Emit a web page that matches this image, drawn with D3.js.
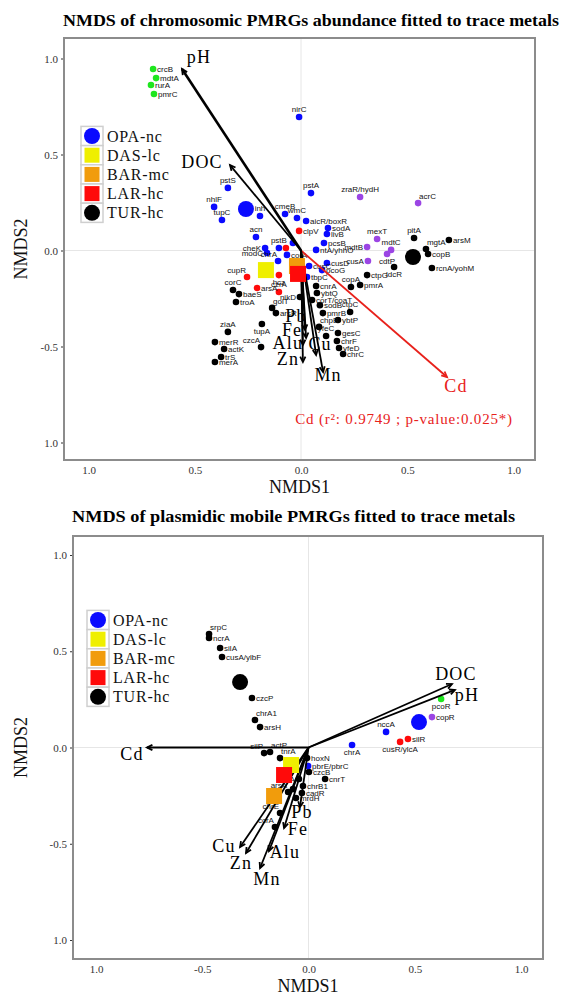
<!DOCTYPE html>
<html><head><meta charset="utf-8">
<script src="https://cdn.jsdelivr.net/npm/d3@7"></script>
<style>body{margin:0;background:#fff}</style>
</head><body>
<svg id="c" width="562" height="1000"></svg>
<script>
// ---------- DATA ----------
const sites = ["OPA-nc","DAS-lc","BAR-mc","LAR-hc","TUR-hc"];
const siteCodes = ["OPA","DAS","BAR","LAR","TUR"];
const siteShapes = ["circle","square","square","square","circle"];

// chromosomic PMRGs: [gene, NMDS1, NMDS2, group]
const chromGenes = [
 ["crcB",-0.696,0.945,"GRN"],["mdtA",-0.682,0.898,"GRN"],["rurA",-0.706,0.862,"GRN"],["pmrC",-0.692,0.815,"GRN"],
 ["nirC",-0.009,0.695,"OPA"],["pstS",-0.344,0.326,"OPA"],["nhlF",-0.409,0.227,"OPA"],["tupC",-0.372,0.159,"OPA"],
 ["inh",-0.193,0.180,"OPA"],["cmeB",-0.075,0.190,"OPA"],["wmC",-0.019,0.169,"OPA"],["aicR/boxR",0.024,0.154,"OPA"],
 ["pstA",0.047,0.299,"OPA"],["sodA",0.127,0.117,"OPA"],["livB",0.122,0.086,"OPA"],["pcsB",0.108,0.039,"OPA"],
 ["ntA/yhhO",0.071,0.003,"OPA"],["acn",-0.212,0.070,"OPA"],["cheK",-0.169,0.013,"OPA"],["modC",-0.160,-0.013,"OPA"],
 ["pstB",-0.104,0.013,"OPA"],["corA",-0.066,-0.023,"OPA"],["chrA",-0.108,-0.055,"OPA"],["",-0.038,0.039,"OPA"],
 ["cusC",0.038,-0.081,"OPA"],["cusD",0.122,-0.065,"OPA"],["pcoG",0.099,-0.102,"OPA"],["tbpC",0.028,-0.138,"OPA"],
 ["clpV",-0.009,0.102,"LAR"],["",-0.071,0.013,"LAR"],["cupR",-0.254,-0.138,"LAR"],["hcz",-0.104,-0.128,"LAR"],
 ["arsA",-0.207,-0.195,"LAR"],["czrA",-0.104,-0.216,"LAR"],
 ["zraR/hydH",0.278,0.279,"PUR"],["acrC",0.551,0.247,"PUR"],["mexT",0.358,0.060,"PUR"],["mdtB",0.311,0.018,"PUR"],
 ["mdtC",0.424,0.003,"PUR"],["cdtP",0.405,-0.018,"PUR"],["cusA",0.315,-0.055,"PUR"],
 ["pitA",0.532,0.065,"TUR"],["mgtA",0.588,0.008,"TUR"],["copB",0.598,-0.018,"TUR"],["arsM",0.696,0.055,"TUR"],
 ["rcnA/yohM",0.616,-0.091,"TUR"],["ldcR",0.438,-0.086,"TUR"],["ctpG",0.311,-0.128,"TUR"],["pmrA",0.278,-0.180,"TUR"],
 ["copA",0.235,-0.190,"TUR"],["cnrA",0.071,-0.185,"TUR"],["ybtQ",0.075,-0.221,"TUR"],["corT/coaT",0.052,-0.258,"TUR"],
 ["sodB",0.089,-0.285,"TUR"],["ctpC",0.231,-0.320,"TUR"],["pmrB",0.103,-0.326,"TUR"],["chpB",0.085,-0.398,"TUR"],
 ["ybtP",0.174,-0.362,"TUR"],["yfeC",0.118,-0.445,"TUR"],["gesC",0.174,-0.430,"TUR"],["chrF",0.169,-0.471,"TUR"],
 ["yfeD",0.179,-0.508,"TUR"],["chrC",0.198,-0.539,"TUR"],["corC",-0.320,-0.206,"TUR"],["baeS",-0.292,-0.227,"TUR"],
 ["troA",-0.306,-0.268,"TUR"],["golT",-0.136,-0.299,"TUR"],["arsR",-0.118,-0.326,"TUR"],["nikD",-0.005,-0.242,"TUR"],
 ["ziaA",-0.344,-0.424,"TUR"],["tupA",-0.184,-0.383,"TUR"],["czcA",-0.188,-0.503,"TUR"],["merR",-0.405,-0.477,"TUR"],
 ["actK",-0.362,-0.513,"TUR"],["trS",-0.376,-0.555,"TUR"],["merA",-0.405,-0.581,"TUR"]
];
const chromCentroids = [["OPA",-0.259,0.216],["DAS",-0.165,-0.102],["BAR",-0.019,-0.081],["LAR",-0.014,-0.122],["TUR",0.527,-0.034]];
const chromVectors = [["pH",-0.560,0.945],["DOC",-0.334,0.445],["Cd",0.687,-0.659],["Pb",0.019,-0.414],["Fe",0.024,-0.456],
 ["Alu",0.009,-0.492],["Cu",0.071,-0.544],["Zn",0.009,-0.581],["Mn",0.104,-0.633]];

// plasmidic mobile PMRGs
const plasGenes = [
 ["srpC",-0.468,0.590,"TUR"],["ncrA",-0.468,0.569,"TUR"],["silA",-0.416,0.517,"TUR"],["cusA/ylbF",-0.407,0.470,"TUR"],
 ["czcP",-0.266,0.257,"TUR"],["chrA1",-0.252,0.143,"TUR"],["arsH",-0.228,0.106,"TUR"],["silP",-0.209,-0.029,"TUR"],
 ["actP",-0.181,-0.023,"TUR"],["tnrA",-0.134,-0.055,"TUR"],["hoxN",-0.007,-0.055,"TUR"],["czcB",0.002,-0.127,"TUR"],
 ["cnrT",0.078,-0.164,"TUR"],["nirA",-0.045,-0.164,"TUR"],["chrB1",-0.026,-0.200,"TUR"],["cadR",-0.031,-0.236,"TUR"],
 ["mrdH",-0.059,-0.262,"TUR"],["arsA",-0.096,-0.231,"TUR"],["",-0.073,-0.216,"TUR"],["chrE",-0.134,-0.340,"TUR"],
 ["ccrA",-0.158,-0.413,"TUR"],
 ["pbrE/pbrC",-0.002,-0.096,"OPA"],["chrA",0.205,0.013,"OPA"],["nccA",0.365,0.081,"OPA"],
 ["silR",0.468,0.044,"LAR"],["cusR/ylcA",0.431,0.029,"LAR"],
 ["copR",0.581,0.158,"PUR"],["pcoR",0.624,0.252,"GRN"]
];
const plasCentroids = [["OPA",0.520,0.132],["DAS",-0.082,-0.091],["BAR",-0.162,-0.252],["LAR",-0.115,-0.143],["TUR",-0.322,0.340]];
const plasVectors = [["DOC",0.675,0.330],["pH",0.689,0.299],["Cd",-0.760,0.0],["Pb",-0.040,-0.309],["Fe",-0.115,-0.418],
 ["Alu",-0.186,-0.538],["Mn",-0.228,-0.626],["Cu",-0.322,-0.517],["Zn",-0.294,-0.548]];

const chromXTicks = [-1,-0.5,0,0.5,1], chromXLabels = ["1.0","0.5","0.0","0.5","1.0"];
const chromYTicks = [-1,-0.5,0,0.5,1], chromYLabels = ["1.0","-0.5","0.0","0.5","1.0"];
const plasXTicks = [-1,-0.5,0,0.5,1], plasXLabels = ["1.0","-0.5","0.0","0.5","1.0"];
const plasYTicks = [-1,-0.5,0,0.5,1], plasYLabels = ["1.0","-0.5","0.0","0.5","1.0"];
const cdStat = "Cd (r\u00B2: 0.9749 ; p-value:0.025*)";

// ---------- STYLE / LAYOUT ----------
const colors = {OPA:"#0a0aff",DAS:"#efef00",BAR:"#f19c0c",LAR:"#ff0a0a",TUR:"#000000",GRN:"#1ee61e",PUR:"#9b45e4"};
const serif = "'Liberation Serif','Times New Roman',serif";
const sans = "'Liberation Sans',Arial,sans-serif";

const chromSide = {"pstS":"t","nhlF":"t","tupC":"t","inh":"t","cmeB":"t","wmC":"t","pstA":"t","nirC":"t","acn":"t",
 "cheK":"l","modC":"l","pstB":"t","chrA":"tl","cupR":"tl","hcz":"b","czrA":"t","zraR/hydH":"t","mexT":"t","mdtB":"l",
 "mdtC":"t","cdtP":"b","cusA":"l","pitA":"t","mgtA":"tr","ldcR":"b","copA":"t","ctpC":"t","chpB":"tr","yfeC":"t",
 "corC":"t","golT":"tr","nikD":"l","ziaA":"t","tupA":"b","czcA":"tl","acrC":"tr"};
const plasSide = {"srpC":"tr","chrA1":"tr","silP":"tl","actP":"tr","arsA":"tl","chrE":"tl","ccrA":"tl","chrA":"b","nccA":"t",
 "pcoR":"b","cusR/ylcA":"b","nirA":"l","tnrA":"tr"};
const chromVecLab = {pH:[17,-6],DOC:[-28,3],Cd:[9,15],Pb:[-9,-8],Fe:[-14,-2],Alu:[-15,4],Zn:[-15,3],Cu:[4,-5],Mn:[5,9]};
const plasVecLab = {DOC:[4,-4],pH:[12,11],Cd:[-15,12],Pb:[2,11],Fe:[14,7],Alu:[16,7],Mn:[7,17],Cu:[-16,5],Zn:[-5,16]};

const svg = d3.select("#c");

function drawPanel(o){
  const g = svg.append("g");
  const x = d3.scaleLinear().domain([-1,1]).range(o.xr);
  const y = d3.scaleLinear().domain([-1,1]).range(o.yr);
  const [L,T,R,B] = o.box;
  g.append("line").attr("x1",x(0)).attr("x2",x(0)).attr("y1",T).attr("y2",B).attr("stroke","#e6e6e6").attr("stroke-width",1);
  g.append("line").attr("x1",L).attr("x2",R).attr("y1",y(0)).attr("y2",y(0)).attr("stroke","#e6e6e6").attr("stroke-width",1);
  const ax = g.append("g").attr("transform",`translate(0,${B})`)
    .call(d3.axisBottom(x).tickValues(o.xt).tickFormat((d,i)=>o.xl[i]).tickSize(0).tickPadding(6));
  const ay = g.append("g").attr("transform",`translate(${L},0)`)
    .call(d3.axisLeft(y).tickValues(o.yt).tickFormat((d,i)=>o.yl[i]).tickSize(3).tickPadding(3));
  [ax,ay].forEach(a=>{a.select(".domain").remove();
    a.selectAll("text").attr("font-family",serif).attr("font-size",11).attr("fill","#333");
    a.selectAll("line").attr("stroke","#333");});
  const pts = o.genes.map(d=>({n:d[0],x:x(d[1]),y:y(d[2]),g:d[3]}));
  g.selectAll(".pt").data(pts).join("circle").attr("cx",d=>d.x).attr("cy",d=>d.y).attr("r",3.3).attr("fill",d=>colors[d.g]);
  const off = {r:[4,3,"start"],l:[-4,3,"end"],t:[0,-5,"middle"],b:[0,10,"middle"],tr:[1,-4,"start"],tl:[-1,-4,"end"]};
  g.selectAll(".lb").data(pts.filter(d=>d.n)).join("text")
    .attr("x",d=>d.x+off[o.side[d.n]||"r"][0]).attr("y",d=>d.y+off[o.side[d.n]||"r"][1])
    .attr("text-anchor",d=>off[o.side[d.n]||"r"][2])
    .attr("font-family",sans).attr("font-size",8).attr("fill","#111").text(d=>d.n);
  o.vecs.forEach(v=>{
    const x1=x(v[1]), y1=y(v[2]), x0=x(0), y0=y(0);
    const col = (o.red && v[0]==="Cd") ? "#e8211b" : "#000";
    const w = v[0]==="pH" && o.thickPH ? 2.6 : 1.8;
    g.append("line").attr("x1",x0).attr("y1",y0).attr("x2",x1).attr("y2",y1).attr("stroke",col).attr("stroke-width",w);
    const a = Math.atan2(y1-y0,x1-x0), h=6;
    const p = d3.path();
    p.moveTo(x1-h*Math.cos(a-0.45),y1-h*Math.sin(a-0.45)); p.lineTo(x1,y1);
    p.lineTo(x1-h*Math.cos(a+0.45),y1-h*Math.sin(a+0.45));
    g.append("path").attr("d",p.toString()).attr("fill","none").attr("stroke",col).attr("stroke-width",1.8);
    const lo = o.vlab[v[0]];
    g.append("text").attr("x",x1+lo[0]).attr("y",y1+lo[1]).attr("text-anchor","middle")
      .attr("font-family",serif).attr("font-size",18).attr("letter-spacing",1.2).attr("fill",col).text(v[0]);
  });
  o.cents.forEach(c=>{
    const i = siteCodes.indexOf(c[0]);
    if(siteShapes[i]==="circle") g.append("circle").attr("cx",x(c[1])).attr("cy",y(c[2])).attr("r",8).attr("fill",colors[c[0]]);
    else g.append("rect").attr("x",x(c[1])-8).attr("y",y(c[2])-8).attr("width",16).attr("height",16).attr("fill",colors[c[0]]);
  });
  g.append("rect").attr("x",L).attr("y",T).attr("width",R-L).attr("height",B-T).attr("fill","none").attr("stroke","#8c8c8c").attr("stroke-width",2);
  const lg = svg.append("g");
  sites.forEach((s,i)=>{
    const cy = o.leg[1]+i*19.2, kx=o.leg[0];
    lg.append("rect").attr("x",kx).attr("y",cy-9.6).attr("width",22).attr("height",19.2).attr("fill","#fff").attr("stroke","#cfcfcf").attr("stroke-width",1.5);
    const c = colors[siteCodes[i]];
    if(siteShapes[i]==="circle") lg.append("circle").attr("cx",kx+11).attr("cy",cy).attr("r",8).attr("fill",c);
    else lg.append("rect").attr("x",kx+3.5).attr("y",cy-7.5).attr("width",15).attr("height",15).attr("fill",c);
    lg.append("text").attr("x",kx+26).attr("y",cy+5.5).attr("font-family",serif).attr("font-size",16).attr("letter-spacing",0.8).attr("fill","#111").text(s);
  });
  svg.append("text").attr("x",(L+R)/2).attr("y",o.xtitleY).attr("text-anchor","middle").attr("font-family",serif).attr("font-size",18).attr("fill","#111").text("NMDS1");
  svg.append("text").attr("transform",`translate(27,${(T+B)/2}) rotate(-90)`).attr("text-anchor","middle").attr("font-family",serif).attr("font-size",18).attr("fill","#111").text("NMDS2");
  svg.append("text").attr("x",o.title[1]).attr("y",o.title[2]).attr("font-family",serif).attr("font-weight","bold").attr("font-size",17)
    .attr("textLength",o.title[3]).attr("lengthAdjust","spacingAndGlyphs").attr("fill","#000").text(o.title[0]);
  return {x,y,g};
}

const chromPanel = drawPanel({xr:[88.5,513.5], yr:[442.5,58.5], box:[64,38,535,460], genes:chromGenes, cents:chromCentroids,
  vecs:chromVectors, side:chromSide, vlab:chromVecLab, red:true, thickPH:true,
  xt:chromXTicks, xl:chromXLabels, yt:chromYTicks, yl:chromYLabels, leg:[81,136], xtitleY:493,
  title:["NMDS of chromosomic PMRGs abundance fitted to trace metals",63,26,496]});
chromPanel.g.append("text").attr("x",chromPanel.x(0.485)).attr("y",chromPanel.y(-0.904)).attr("text-anchor","middle").attr("font-family",serif)
  .attr("font-size",15).attr("letter-spacing",0.8).attr("fill","#e8211b").text(cdStat);

drawPanel({xr:[96,521], yr:[940,555], box:[73,536,543,959], genes:plasGenes, cents:plasCentroids,
  vecs:plasVectors, side:plasSide, vlab:plasVecLab, red:false, thickPH:false,
  xt:plasXTicks, xl:plasXLabels, yt:plasYTicks, yl:plasYLabels, leg:[87,620], xtitleY:992,
  title:["NMDS of plasmidic mobile PMRGs fitted to trace metals",72,522,443]});
</script>
</body></html>
